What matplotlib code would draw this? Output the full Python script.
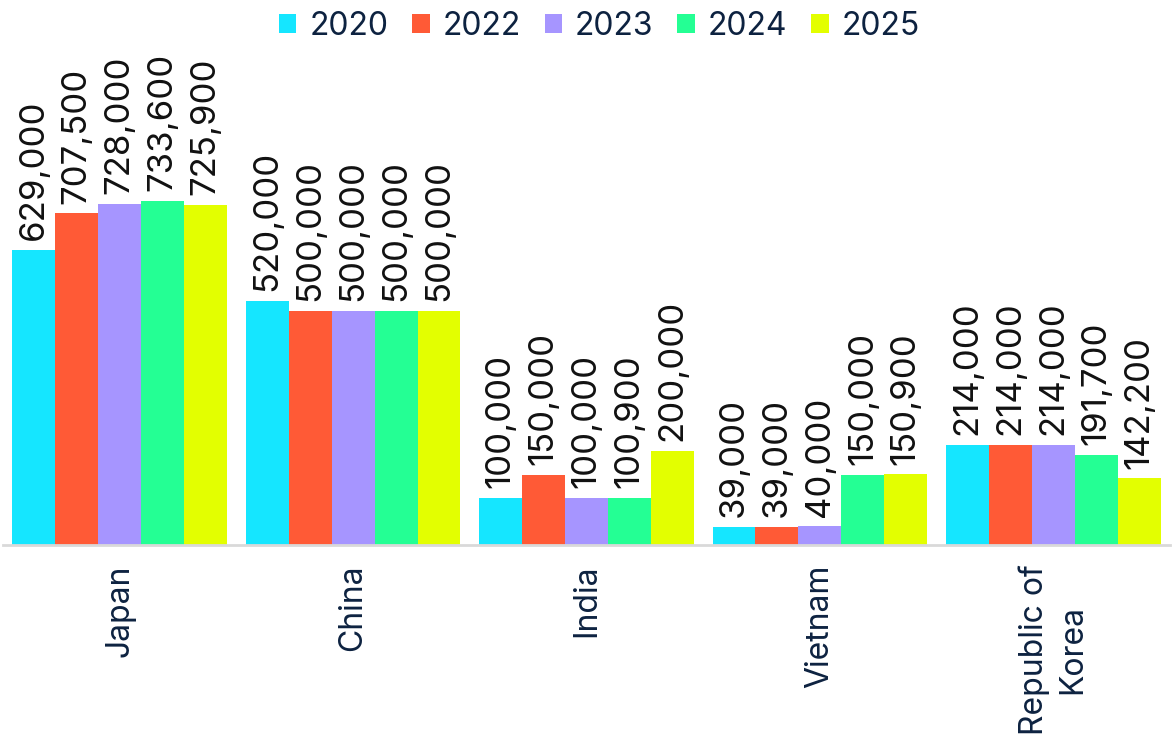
import numpy as np
import matplotlib.pyplot as plt

countries = ["Japan", "China", "India", "Vietnam", "Republic of\nKorea"]
years = ["2020", "2022", "2023", "2024", "2025"]
colors = ["#15E6FF", "#FF5A36", "#A695FF", "#24FF94", "#E3FF00"]

v2020 = [629000, 520000, 100000, 39000, 214000]
v2022 = [707500, 500000, 150000, 39000, 214000]
v2023 = [728000, 500000, 100000, 40000, 214000]
v2024 = [733600, 500000, 100900, 150000, 191700]
v2025 = [725900, 500000, 200000, 150900, 142200]
series = [v2020, v2022, v2023, v2024, v2025]

plt.rcParams['font.family'] = ['Inter', 'DejaVu Sans']
navy = "#0D2240"

fig = plt.figure(figsize=(11.76, 7.4), dpi=100)
ax = fig.add_axes([3 / 1176, 1 - 545 / 740, 1167 / 1176, 505 / 740])

x = np.arange(len(countries))
bw = 0.184
for i, vals in enumerate(series):
    pos = x + (i - 2) * bw
    ax.bar(pos, vals, width=bw, color=colors[i], label=years[i], zorder=2)
    for px, v in zip(pos, vals):
        ax.annotate(f"{v:,}", (px, v), xytext=(0, 7), textcoords="offset points",
                    rotation=90, ha="center", va="bottom", fontsize=25, color="#111111")

ax.set_xlim(-0.5, len(countries) - 0.5)
ax.set_ylim(0, 1077000)
ax.set_yticks([])
ax.set_xticks(x)
ax.set_xticklabels(countries, rotation=90, fontsize=23, color=navy, va="top", ha="center",
                   linespacing=1.3)
ax.tick_params(axis="x", length=0, pad=14)
for s in ["top", "right", "left"]:
    ax.spines[s].set_visible(False)
ax.spines["bottom"].set_color("#D9D9D9")
ax.spines["bottom"].set_linewidth(2)

leg = ax.legend(loc="upper center", bbox_to_anchor=(0.511, 1 + 42 / 505), ncol=5, frameon=False,
                fontsize=23, handlelength=0.55, handleheight=0.55, handletextpad=0.4,
                columnspacing=0.75, borderaxespad=0)
for t in leg.get_texts():
    t.set_color(navy)

fig.savefig("out.png", dpi=100)
